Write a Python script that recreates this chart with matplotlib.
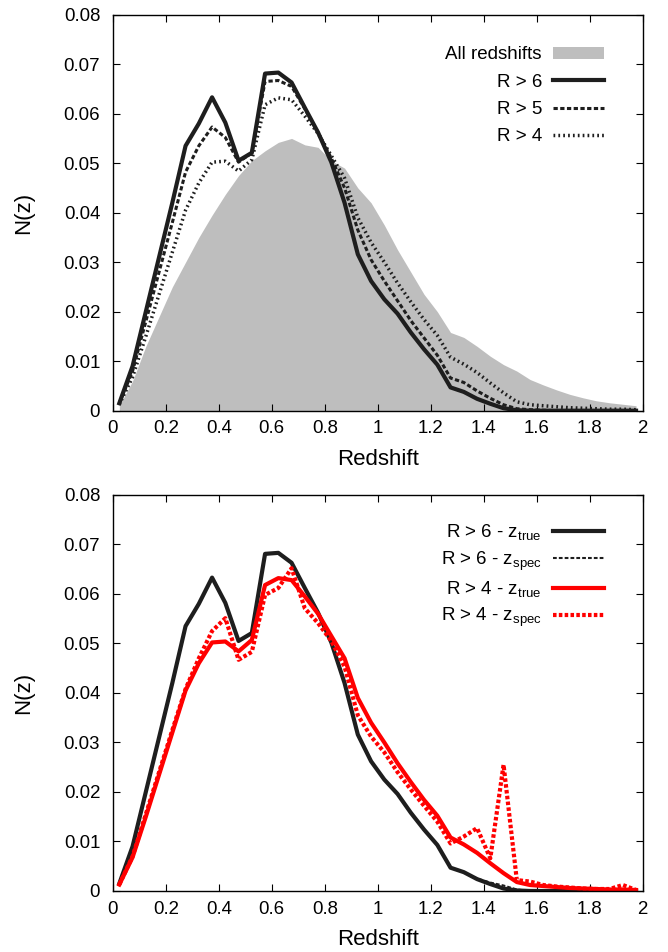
import numpy as np
import matplotlib
matplotlib.use('Agg')
from matplotlib import pyplot as plt

plt.rcParams['font.family'] = ['Liberation Sans', 'DejaVu Sans']
plt.rcParams['mathtext.fontset'] = 'custom'
plt.rcParams['mathtext.rm'] = 'Liberation Sans'

# bin centres (width 0.05)
z = np.round(np.arange(0.025, 2.0, 0.05), 3)

all_z = [0.0010, 0.0060, 0.0130, 0.0190, 0.0250, 0.0300, 0.0350, 0.0395, 0.0437, 0.0475,
         0.0505, 0.0525, 0.0542, 0.0550, 0.0537, 0.0532, 0.0505, 0.0490, 0.0450, 0.0420,
         0.0375, 0.0325, 0.0280, 0.0235, 0.0200, 0.0158, 0.0148, 0.0130, 0.0110, 0.0093,
         0.0080, 0.0063, 0.0052, 0.0042, 0.0033, 0.0026, 0.0020, 0.0016, 0.0013, 0.0010]

r6 = [0.0015, 0.0090, 0.0200, 0.0310, 0.0420, 0.0535, 0.0580, 0.0633, 0.0582, 0.0505,
      0.0521, 0.0681, 0.0683, 0.0663, 0.0612, 0.0562, 0.0502, 0.0420, 0.0316, 0.0262,
      0.0225, 0.0196, 0.0158, 0.0124, 0.0093, 0.0047, 0.0038, 0.0024, 0.0014, 0.0005,
      0.0001, 0, 0, 0, 0, 0, 0, 0, 0, 0]

r5 = [0.0015, 0.0080, 0.0180, 0.0280, 0.0380, 0.0482, 0.0535, 0.0573, 0.0552, 0.0502,
      0.0521, 0.0665, 0.0667, 0.0655, 0.0610, 0.0562, 0.0510, 0.0450, 0.0365, 0.0305,
      0.0262, 0.0222, 0.0182, 0.0147, 0.0112, 0.0066, 0.0057, 0.0040, 0.0025, 0.0012,
      0.0004, 0.0002, 0.0001, 0, 0, 0, 0, 0, 0, 0]

r4 = [0.0013, 0.0068, 0.0150, 0.0235, 0.0320, 0.0405, 0.0460, 0.0502, 0.0504, 0.0484,
      0.0507, 0.0618, 0.0632, 0.0628, 0.0595, 0.0560, 0.0515, 0.0470, 0.0390, 0.0340,
      0.0300, 0.0258, 0.0220, 0.0184, 0.0152, 0.0108, 0.0094, 0.0077, 0.0056, 0.0036,
      0.0018, 0.0012, 0.0010, 0.0008, 0.0006, 0.0005, 0.0004, 0.0003, 0.0003, 0.0002]

r6_spec = [0.0015, 0.0090, 0.0200, 0.0310, 0.0420, 0.0535, 0.0580, 0.0632, 0.0582, 0.0506,
           0.0521, 0.0680, 0.0683, 0.0663, 0.0612, 0.0562, 0.0502, 0.0420, 0.0316, 0.0262,
           0.0225, 0.0196, 0.0158, 0.0124, 0.0093, 0.0047, 0.0038, 0.0025, 0.0017, 0.0011,
           0.0003, 0, 0, 0, 0, 0, 0, 0, 0, 0]

r4_spec = [0.0013, 0.0070, 0.0155, 0.0240, 0.0325, 0.0408, 0.0470, 0.0525, 0.0551, 0.0467,
           0.0483, 0.0598, 0.0612, 0.0652, 0.0571, 0.0541, 0.0505, 0.0453, 0.0355, 0.0312,
           0.0280, 0.0240, 0.0205, 0.0172, 0.0140, 0.0096, 0.0110, 0.0127, 0.0066, 0.0255,
           0.0022, 0.0019, 0.0012, 0.0009, 0.0007, 0.0005, 0.0004, 0.0004, 0.0012, 0.0002]

xticks = [0, 0.2, 0.4, 0.6, 0.8, 1, 1.2, 1.4, 1.6, 1.8, 2]
xticklabels = ['0', '0.2', '0.4', '0.6', '0.8', '1', '1.2', '1.4', '1.6', '1.8', '2']
yticks = [0, 0.01, 0.02, 0.03, 0.04, 0.05, 0.06, 0.07, 0.08]
yticklabels = ['0', '0.01', '0.02', '0.03', '0.04', '0.05', '0.06', '0.07', '0.08']

black = '#1e1e1e'
grey = '#bebebe'
red = '#ff0000'

fig = plt.figure(figsize=(6.68, 9.52), dpi=100)
ax1 = fig.add_axes([0.1687, 0.5686, 0.7934, 0.4160])
ax2 = fig.add_axes([0.1687, 0.0641, 0.7934, 0.4160])


def style(ax):
    ax.set_xlim(0, 2)
    ax.set_ylim(0, 0.08)
    ax.set_xticks(xticks)
    ax.set_xticklabels(xticklabels)
    ax.set_yticks(yticks)
    ax.set_yticklabels(yticklabels)
    ax.tick_params(direction='in', top=True, right=True, length=5, width=0.8,
                   labelsize=13.4)
    ax.tick_params(axis='x', pad=7)
    ax.tick_params(axis='y', pad=9)
    ax.set_xlabel('Redshift', fontsize=16, labelpad=8)
    ax.set_ylabel('N(z)', fontsize=16, labelpad=21)
    for s in ax.spines.values():
        s.set_linewidth(1.0)


# top panel
ax1.fill_between(z, 0, all_z, color=grey, lw=0, label='All redshifts')
ax1.plot(z, r6, color=black, lw=3.0, label='R > 6')
ax1.plot(z, r5, color=black, lw=2.2, dashes=(1.4, 0.8), label='R > 5')
ax1.plot(z, r4, color=black, lw=2.5, dashes=(0.5, 0.9), label='R > 4')
style(ax1)
ax1.legend(loc='upper right', bbox_to_anchor=(0.927, 0.92), frameon=False,
           markerfirst=False, fontsize=13.5, handlelength=2.72, handletextpad=0.59,
           labelspacing=0.55, borderpad=0, borderaxespad=0, handleheight=0.64)

# bottom panel
ax2.plot(z, r6, color=black, lw=3.0, label=r'R > 6 - z$_{\mathrm{true}}$')
ax2.plot(z, r6_spec, color=black, lw=1.5, dashes=(1.8, 1.0),
         label=r'R > 6 - z$_{\mathrm{spec}}$')
ax2.plot(z, r4, color=red, lw=3.0, label=r'R > 4 - z$_{\mathrm{true}}$')
ax2.plot(z, r4_spec, color=red, lw=3.0, dashes=(0.85, 0.55),
         label=r'R > 4 - z$_{\mathrm{spec}}$')
style(ax2)
ax2.legend(loc='upper right', bbox_to_anchor=(0.927, 0.93), frameon=False,
           markerfirst=False, fontsize=13.5, handlelength=2.72, handletextpad=0.59,
           labelspacing=0.34, borderpad=0, borderaxespad=0)

fig.savefig('out.png', dpi=100)
